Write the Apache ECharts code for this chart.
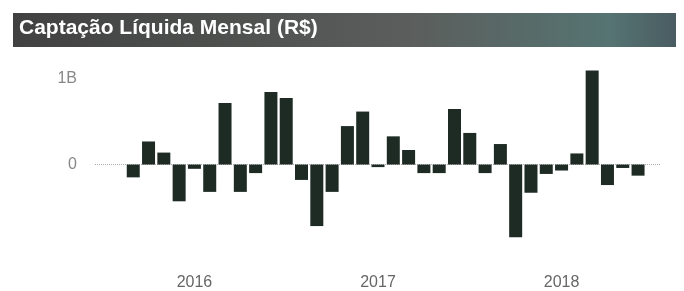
<!DOCTYPE html>
<html>
<head>
<meta charset="utf-8">
<script src="https://cdn.jsdelivr.net/npm/echarts@6/dist/echarts.min.js"></script>
<style>
  html, body { margin: 0; padding: 0; background: #fff; }
  #main { width: 684px; height: 291px; }
</style>
</head>
<body>
<div id="main"></div>
<script>
// meses (jul/2015 .. jul/2018)
var months = [
  '2015-07','2015-08','2015-09','2015-10','2015-11','2015-12',
  '2016-01','2016-02','2016-03','2016-04','2016-05','2016-06',
  '2016-07','2016-08','2016-09','2016-10','2016-11','2016-12',
  '2017-01','2017-02','2017-03','2017-04','2017-05','2017-06',
  '2017-07','2017-08','2017-09','2017-10','2017-11','2017-12',
  '2018-01','2018-02','2018-03','2018-04','2018-05','2018-06',
  '2018-07'
]
// captação líquida em bilhões de R$
var netFlow = [
  null, null, -0.15, 0.27, 0.14, -0.43,
  -0.05, -0.32, 0.72, -0.32, -0.10, 0.85,
  0.78, -0.18, -0.72, -0.32, 0.45, 0.62,
  -0.03, 0.33, 0.17, -0.10, -0.10, 0.65,
  0.37, -0.10, 0.24, -0.85, -0.33, -0.11,
  -0.07, 0.13, 1.10, -0.24, -0.04, -0.13,
  null
]
var yLabels = { 0: '0', 1: '1B' }

var chart = echarts.init(document.getElementById('main'))
chart.setOption({
  animation: false,
  graphic: [
    {
      type: 'rect',
      left: 13, top: 13,
      shape: { width: 663, height: 34 },
      style: {
        fill: new echarts.graphic.LinearGradient(0, 0, 1, 0, [
          { offset: 0, color: '#404140' },
          { offset: 0.6, color: '#5b5e5c' },
          { offset: 0.9, color: '#557472' },
          { offset: 1, color: '#4a5c62' }
        ])
      }
    },
    {
      type: 'text',
      left: 19, top: 18,
      style: {
        text: 'Captação Líquida Mensal (R$)',
        fill: '#fff',
        font: 'bold 21px "Liberation Sans", Arial, sans-serif'
      }
    }
  ],
  grid: { left: 95, right: 23, top: 62, height: 189 },
  xAxis: {
    type: 'category',
    data: months,
    axisLine: { show: false },
    axisTick: { show: false },
    axisLabel: {
      interval: function (idx, val) { return val.slice(5) === '01' },
      formatter: function (v) { return v.slice(0, 4) },
      margin: 25,
      color: '#666',
      fontSize: 16,
      fontFamily: 'Liberation Sans'
    }
  },
  yAxis: {
    type: 'value',
    min: -1, max: 1.2, interval: 1,
    splitLine: { show: false },
    axisLine: { show: false },
    axisTick: { show: false },
    axisLabel: {
      formatter: function (v) { return yLabels[v] || '' },
      margin: 18,
      color: '#888',
      fontSize: 16,
      fontFamily: 'Liberation Sans'
    }
  },
  series: [{
    type: 'bar',
    data: netFlow,
    barWidth: 13,
    itemStyle: { color: '#1e2b25' },
    markLine: {
      silent: true,
      symbol: 'none',
      label: { show: false },
      lineStyle: { color: '#aaa', type: 'dotted', width: 1 },
      data: [{ yAxis: 0 }],
      z: 1
    }
  }]
})
</script>
</body>
</html>
